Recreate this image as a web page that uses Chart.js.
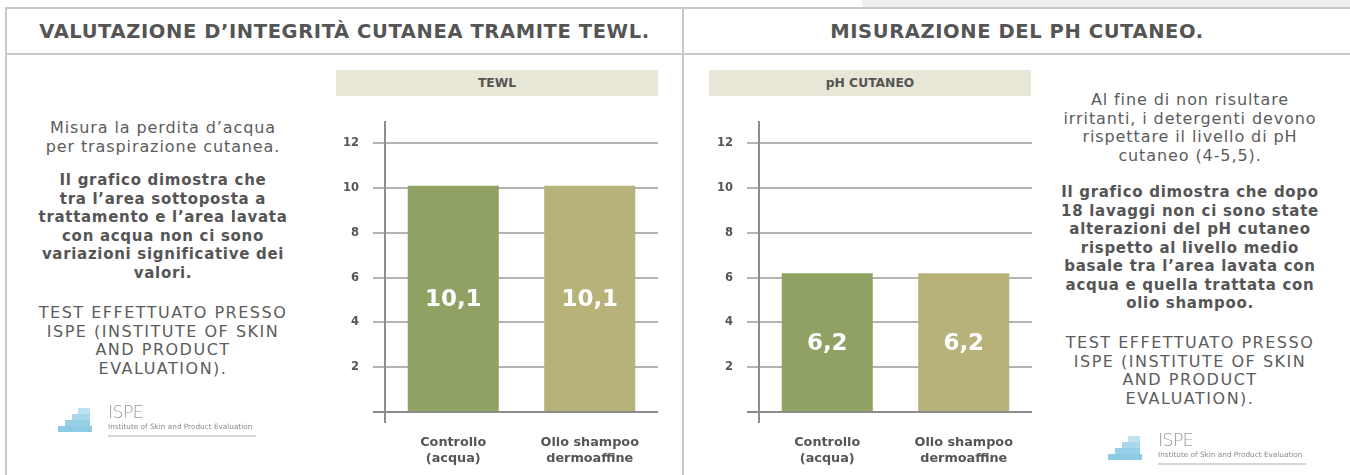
<!DOCTYPE html>
<html lang="it">
<head>
<meta charset="utf-8">
<script src="https://cdn.jsdelivr.net/npm/chart.js"></script>
<style>
  html, body { margin: 0; padding: 0; background: #fff; }
  body { width: 1350px; height: 475px; position: relative; overflow: hidden; font-family: "DejaVu Sans", sans-serif; color: #575757; }
  .abs { position: absolute; }
  .topband { left: 862px; top: 0; width: 488px; height: 8px; background: #efefef; }
  .hline { height: 2px; background: #c9c9c9; }
  .vline { width: 2px; background: #c9c9c9; }
  .title { top: 18px; height: 28px; line-height: 28px; text-align: center; font-weight: 700; font-size: 19.5px; letter-spacing: 0.6px; color: #555; white-space: nowrap; }
  .band { top: 70px; width: 322px; height: 26px; line-height: 26px; background: #e8e6d6; text-align: center; font-weight: 700; font-size: 12.3px; color: #555; }
  .txt { width: 330px; text-align: center; white-space: nowrap; line-height: 18.5px; }
  .light { font-size: 16px; font-weight: 400; letter-spacing: 0.9px; color: #5c5c5c; }
  .bold { font-size: 15px; font-weight: 700; letter-spacing: 0.7px; color: #555; }
  .caps { font-size: 16px; font-weight: 400; letter-spacing: 1.5px; color: #5c5c5c; }
  .logo { width: 210px; height: 42px; filter: blur(0.5px); }
  .logo .step { position: absolute; height: 6px; background: #8ccbe3; }
  .logo .name { position: absolute; left: 52px; top: -3px; font-size: 18px; font-weight: 300; color: #9a9a9a; letter-spacing: -1px; }
  .logo .sub { position: absolute; left: 52px; top: 18px; font-size: 7.3px; color: #8a8a8a; white-space: nowrap; }
  .logo .rule { position: absolute; left: 52px; top: 31px; width: 148px; height: 2px; background: #d6d6d6; }
  canvas { position: absolute; }
</style>
</head>
<body>
<div class="abs topband"></div>
<div class="abs hline" style="left:5px; top:7px; width:1345px;"></div>
<div class="abs hline" style="left:5px; top:53px; width:1345px;"></div>
<div class="abs vline" style="left:5px; top:7px; height:468px;"></div>
<div class="abs vline" style="left:682px; top:7px; height:468px;"></div>

<div class="abs title" style="left:7px; width:675px;">VALUTAZIONE D’INTEGRITÀ CUTANEA TRAMITE TEWL.</div>
<div class="abs title" style="left:684px; width:666px;">MISURAZIONE DEL PH CUTANEO.</div>

<div class="abs band" style="left:336px;">TEWL</div>
<div class="abs band" style="left:709px;">pH CUTANEO</div>

<div class="abs txt light" style="left:-2px; top:119px;">Misura la perdita d’acqua<br>per traspirazione cutanea.</div>
<div class="abs txt bold" style="left:-2px; top:171px;">Il grafico dimostra che<br>tra l’area sottoposta a<br>trattamento e l’area lavata<br>con acqua non ci sono<br>variazioni significative dei<br>valori.</div>
<div class="abs txt caps" style="left:-2px; top:304px;">TEST EFFETTUATO PRESSO<br>ISPE (INSTITUTE OF SKIN<br>AND PRODUCT<br>EVALUATION).</div>

<div class="abs txt light" style="left:1025px; top:91px;">Al fine di non risultare<br>irritanti, i detergenti devono<br>rispettare il livello di pH<br>cutaneo (4-5,5).</div>
<div class="abs txt bold" style="left:1025px; top:183px;">Il grafico dimostra che dopo<br>18 lavaggi non ci sono state<br>alterazioni del pH cutaneo<br>rispetto al livello medio<br>basale tra l’area lavata con<br>acqua e quella trattata con<br>olio shampoo.</div>
<div class="abs txt caps" style="left:1025px; top:334px;">TEST EFFETTUATO PRESSO<br>ISPE (INSTITUTE OF SKIN<br>AND PRODUCT<br>EVALUATION).</div>

<!-- ISPE logos: stepped triangle, name, subtitle, rule -->
<div class="abs logo" style="left:56px; top:404px;">
  <div class="step" style="left:22px; top:4px; width:12px; background:#bfe2f1;"></div>
  <div class="step" style="left:16px; top:10px; width:18px; background:#a9d8ed;"></div>
  <div class="step" style="left:9px; top:16px; width:25px; background:#98d0e8;"></div>
  <div class="step" style="left:2px; top:22px; width:34px;"></div>
  <div class="name">ISPE</div>
  <div class="sub">Institute of Skin and Product Evaluation</div>
  <div class="rule"></div>
</div>
<div class="abs logo" style="left:1106px; top:432px;">
  <div class="step" style="left:22px; top:4px; width:12px; background:#bfe2f1;"></div>
  <div class="step" style="left:16px; top:10px; width:18px; background:#a9d8ed;"></div>
  <div class="step" style="left:9px; top:16px; width:25px; background:#98d0e8;"></div>
  <div class="step" style="left:2px; top:22px; width:34px;"></div>
  <div class="name">ISPE</div>
  <div class="sub">Institute of Skin and Product Evaluation</div>
  <div class="rule"></div>
</div>

<canvas id="chartTewl" width="350" height="370" style="left:320px; top:100px;"></canvas>
<canvas id="chartPh" width="350" height="370" style="left:694px; top:100px;"></canvas>

<script>
// categories and values
var categories = [['Controllo', '(acqua)'], ['Olio shampoo', 'dermoaffine']];
var tewlValues = [10.1, 10.1];
var phValues = [6.2, 6.2];
var yTicks = [2, 4, 6, 8, 10, 12];
var yMax = 13;

var FONT = '"DejaVu Sans", sans-serif';

// vertical axis line, running a little below the baseline
var axisLine = {
  id: 'axisLine',
  afterDatasetsDraw: function(chart) {
    var ctx = chart.ctx;
    var area = chart.chartArea;
    ctx.save();
    ctx.strokeStyle = '#8c8c8c';
    ctx.lineWidth = 2;
    ctx.beginPath();
    ctx.moveTo(area.left, area.top);
    ctx.lineTo(area.left, area.bottom + 11);
    ctx.stroke();
    ctx.restore();
  }
};

// value written in the middle of each bar, with a decimal comma
var barValues = {
  id: 'barValues',
  afterDatasetsDraw: function(chart) {
    var ctx = chart.ctx;
    var ds = chart.data.datasets[0];
    var meta = chart.getDatasetMeta(0);
    ctx.save();
    ctx.fillStyle = '#ffffff';
    ctx.font = 'bold 23px ' + FONT;
    ctx.textAlign = 'center';
    ctx.textBaseline = 'middle';
    meta.data.forEach(function(bar, i) {
      var label = String(ds.data[i]).replace('.', ',');
      ctx.fillText(label, bar.x, (bar.y + bar.base) / 2 + 2);
    });
    ctx.restore();
  }
};

function makeChart(id, values) {
  return new Chart(document.getElementById(id), {
    type: 'bar',
    data: {
      labels: categories,
      datasets: [{
        data: values,
        backgroundColor: ['#8fa263', '#b7b27a'],
        barPercentage: 0.667,
        categoryPercentage: 1
      }]
    },
    options: {
      responsive: false,
      animation: false,
      layout: { padding: { top: 18, right: 12, bottom: 0, left: 0 } },
      plugins: { legend: { display: false }, tooltip: { enabled: false } },
      scales: {
        x: {
          grid: { display: false },
          border: { display: false },
          ticks: {
            color: '#555',
            font: { family: FONT, size: 12.8, weight: 'bold', lineHeight: 1.3 },
            padding: 14,
            maxRotation: 0
          },
          afterFit: function(s) { s.height = 58; }
        },
        y: {
          min: 0,
          max: yMax,
          afterBuildTicks: function(s) {
            s.ticks = [0].concat(yTicks).map(function(v) { return { value: v }; });
          },
          border: { display: false },
          grid: {
            color: function(c) { return c.tick && c.tick.value === 0 ? '#8c8c8c' : '#b3b3b3'; },
            lineWidth: 2,
            tickLength: 12,
            drawTicks: true
          },
          ticks: {
            color: '#555',
            font: { family: FONT, size: 11.5, weight: 'bold' },
            padding: 14,
            callback: function(v) { return v === 0 ? '' : v; }
          },
          afterFit: function(s) { s.width = 65; }
        }
      }
    },
    plugins: [axisLine, barValues]
  });
}

makeChart('chartTewl', tewlValues);
makeChart('chartPh', phValues);
</script>
</body>
</html>
